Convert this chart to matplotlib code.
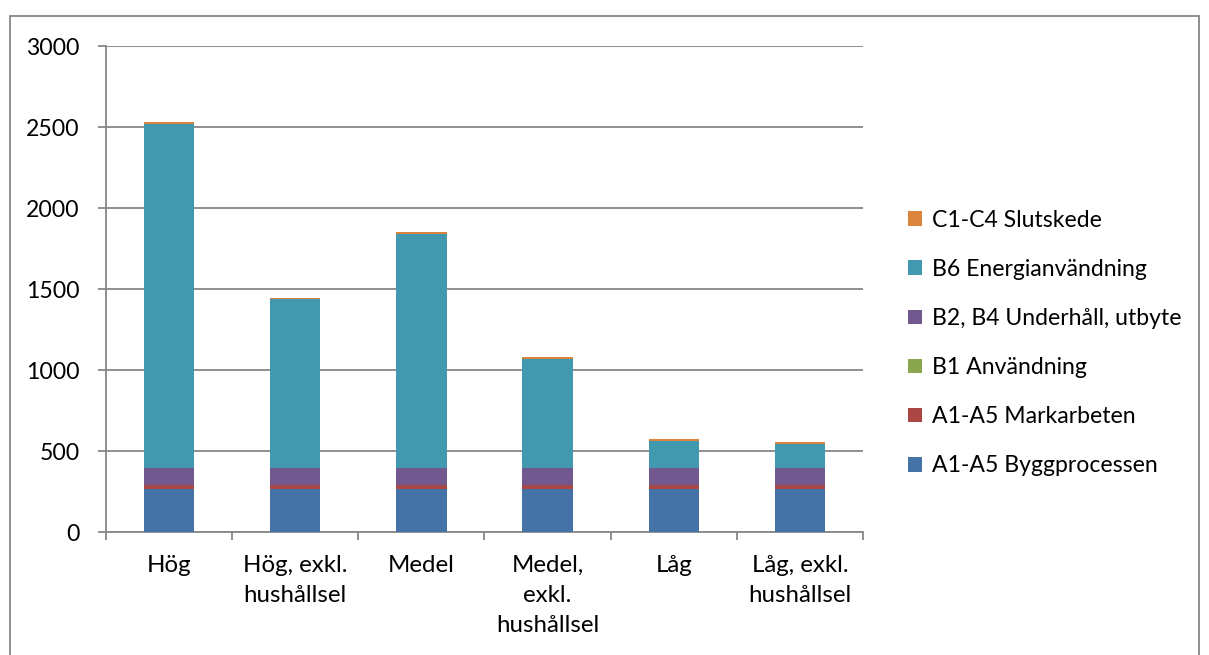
import matplotlib
matplotlib.use("Agg")
import matplotlib.pyplot as plt
from matplotlib.patches import Rectangle, Patch
import numpy as np

plt.rcParams['font.family'] = ['Lato', 'DejaVu Sans']

categories = ["Hög", "Hög, exkl.\nhushållsel", "Medel", "Medel,\nexkl.\nhushållsel",
              "Låg", "Låg, exkl.\nhushållsel"]
series_names = ["A1-A5 Byggprocessen", "A1-A5 Markarbeten", "B1 Användning",
                "B2, B4 Underhåll, utbyte", "B6 Energianvändning", "C1-C4 Slutskede"]
byggprocessen = [265, 265, 265, 265, 265, 265]
markarbeten = [25, 25, 25, 25, 25, 25]
anvandning = [0, 0, 0, 0, 0, 0]
underhall = [108, 108, 108, 108, 108, 108]
energi = [2121, 1041, 1444, 673, 165, 149]
slutskede = [10, 8, 9, 10, 12, 8]
colors = ["#4572A7", "#AA4643", "#89A54E", "#71588F", "#4198AF", "#DB843D"]

W, H = 1209, 655
FS = 16.6
fig = plt.figure(figsize=(W / 100, H / 100), dpi=100)
ax = fig.add_axes([106 / W, 1 - 532.3 / H, (863 - 106) / W, (532.3 - 46) / H])

x = np.arange(len(categories))
bottom = np.zeros(len(categories))
handles = []
for name, vals, c in zip(series_names,
                         [byggprocessen, markarbeten, anvandning, underhall, energi, slutskede],
                         colors):
    v = np.array(vals, dtype=float)
    ax.bar(x, v, width=0.4, bottom=bottom, color=c, zorder=3, linewidth=0)
    bottom += v
    handles.append(Patch(facecolor=c, edgecolor='none', label=name))

ax.set_xlim(-0.5, len(categories) - 0.5)
ax.set_ylim(0, 3000)
ax.set_yticks(np.arange(0, 3001, 500))
ax.yaxis.grid(True, color="#878787", linewidth=1.3, zorder=0)
ax.set_axisbelow(True)

gray = "#878787"
for s in ["top", "right"]:
    ax.spines[s].set_visible(False)
for s in ["left", "bottom"]:
    ax.spines[s].set_color(gray)
    ax.spines[s].set_linewidth(1.3)

ax.set_xticks(x)
ax.set_xticklabels(categories, fontsize=17.3, linespacing=1.55)
ax.set_xticks(np.arange(-0.5, len(categories), 1), minor=True)
ax.tick_params(axis='x', which='major', length=0, pad=16)
ax.tick_params(axis='x', which='minor', length=6, width=1.3, color=gray, direction='out')
ax.tick_params(axis='y', length=6, width=1.3, color=gray, pad=13, labelsize=FS)

leg = fig.legend(handles[::-1], series_names[::-1], loc='upper left',
                 bbox_to_anchor=(887 / W, 1 - 189 / H), frameon=False,
                 fontsize=FS, handlelength=0.6, handleheight=0.6,
                 handletextpad=0.45, labelspacing=1.22)

fig.patches.append(Rectangle((10 / W, -0.02), (1199 - 10) / W, (H - 16) / H + 0.02,
                             transform=fig.transFigure, fill=False,
                             edgecolor=gray, linewidth=1.3))

fig.savefig("out.png", dpi=100, facecolor="white")
